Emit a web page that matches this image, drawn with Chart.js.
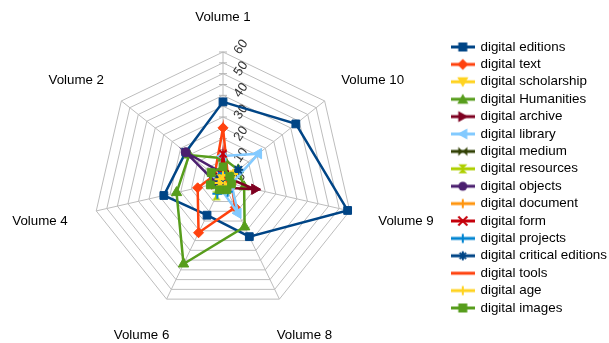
<!DOCTYPE html>
<html>
<head>
<meta charset="utf-8">
<script src="https://cdn.jsdelivr.net/npm/chart.js@4/dist/chart.umd.min.js"></script>
<style>
  html, body { margin: 0; padding: 0; background: #ffffff; }
  #wrap { width: 609px; height: 343px; position: relative; }
</style>
</head>
<body>
<div id="wrap"><canvas id="radar"></canvas></div>
<script>
// Axes, clockwise from the top
const volumes = ['Volume 1', 'Volume 10', 'Volume 9', 'Volume 8', 'Volume 6', 'Volume 4', 'Volume 2'];
const tickLabels = [0, 10, 20, 30, 40, 50, 60];

// Term counts per volume (same order as volumes)
const digitalEditions         = [37, 43, 59, 28, 17, 28, 22];
const digitalText             = [25, 3, 4, 13, 26, 12, 5];
const digitalScholarship      = [3, 6, 4, 2, 2, 2, 2];
const digitalHumanities       = [11, 9, 10, 23, 42, 22, 20];
const digitalArchive          = [5, 3, 15, 3, 2, 4, 3];
const digitalLibrary          = [12, 21, 4, 16, 3, 2, 3];
const digitalMedium           = [2, 2, 2, 2, 2, 5, 2];
const digitalResources        = [2, 2, 2, 2, 7, 2, 2];
const digitalObjects          = [4, 2, 2, 2, 2, 3, 22];
const digitalDocument         = [2, 2, 3, 2, 2, 2, 2];
const digitalForm             = [13, 2, 2, 2, 2, 2, 2];
const digitalProjects         = [4, 3, 2, 5, 6, 2, 2];
const digitalCriticalEditions = [2, 9, 2, 2, 2, 2, 2];
const digitalTools            = [2, 2, 2, 2, 2, 2, 2];
const digitalAge              = [3, 6, 3, 2, 2, 2, 2];
const digitalImages           = [7, 4, 4, 4, 4, 6, 7];

const seriesNames = ['digital editions', 'digital text', 'digital scholarship', 'digital Humanities',
  'digital archive', 'digital library', 'digital medium', 'digital resources', 'digital objects',
  'digital document', 'digital form', 'digital projects', 'digital critical editions',
  'digital tools', 'digital age', 'digital images'];
const seriesValues = [digitalEditions, digitalText, digitalScholarship, digitalHumanities,
  digitalArchive, digitalLibrary, digitalMedium, digitalResources, digitalObjects,
  digitalDocument, digitalForm, digitalProjects, digitalCriticalEditions,
  digitalTools, digitalAge, digitalImages];

// Styling
const palette = ['#004586', '#ff420e', '#ffd320', '#579d1c', '#7e0021', '#83caff', '#314004', '#aecf00',
  '#4b1f6f', '#ff950e', '#c5000b', '#0084d1', '#004586', '#ff420e', '#ffd320', '#579d1c'];
const markers = ['square', 'diamond', 'triDown', 'triUp', 'triRight', 'triLeft', 'bowtie', 'hourglass',
  'circle', 'plus', 'cross', 'plus', 'star', 'none', 'plus', 'square'];

const FONT = "'Liberation Sans', Arial, sans-serif";
const CX = 223, CY = 182, RADIUS = 130;

function drawMarker(ctx, kind, x, y, color) {
  const s = 4.5;
  ctx.save();
  ctx.fillStyle = color;
  ctx.strokeStyle = color;
  ctx.lineWidth = 2;
  ctx.beginPath();
  switch (kind) {
    case 'square': ctx.rect(x - s, y - s, 2 * s, 2 * s); ctx.fill(); break;
    case 'diamond': ctx.moveTo(x, y - s - 1); ctx.lineTo(x + s + 1, y); ctx.lineTo(x, y + s + 1); ctx.lineTo(x - s - 1, y); ctx.closePath(); ctx.fill(); break;
    case 'triUp': ctx.moveTo(x, y - s - 1); ctx.lineTo(x + s + 1, y + s); ctx.lineTo(x - s - 1, y + s); ctx.closePath(); ctx.fill(); break;
    case 'triDown': ctx.moveTo(x, y + s + 1); ctx.lineTo(x + s + 1, y - s); ctx.lineTo(x - s - 1, y - s); ctx.closePath(); ctx.fill(); break;
    case 'triRight': ctx.moveTo(x + s + 1, y); ctx.lineTo(x - s, y - s - 1); ctx.lineTo(x - s, y + s + 1); ctx.closePath(); ctx.fill(); break;
    case 'triLeft': ctx.moveTo(x - s - 1, y); ctx.lineTo(x + s, y - s - 1); ctx.lineTo(x + s, y + s + 1); ctx.closePath(); ctx.fill(); break;
    case 'bowtie':
      ctx.moveTo(x - s, y - s); ctx.lineTo(x, y); ctx.lineTo(x - s, y + s); ctx.closePath();
      ctx.moveTo(x + s, y - s); ctx.lineTo(x, y); ctx.lineTo(x + s, y + s); ctx.closePath(); ctx.fill(); break;
    case 'hourglass':
      ctx.moveTo(x - s, y - s); ctx.lineTo(x + s, y - s); ctx.lineTo(x, y); ctx.closePath();
      ctx.moveTo(x - s, y + s); ctx.lineTo(x + s, y + s); ctx.lineTo(x, y); ctx.closePath(); ctx.fill(); break;
    case 'circle': ctx.arc(x, y, s, 0, Math.PI * 2); ctx.fill(); break;
    case 'plus': ctx.moveTo(x - s, y); ctx.lineTo(x + s, y); ctx.moveTo(x, y - s); ctx.lineTo(x, y + s); ctx.stroke(); break;
    case 'cross': ctx.moveTo(x - s, y - s); ctx.lineTo(x + s, y + s); ctx.moveTo(x + s, y - s); ctx.lineTo(x - s, y + s); ctx.stroke(); break;
    case 'star':
      ctx.moveTo(x - s, y); ctx.lineTo(x + s, y); ctx.moveTo(x, y - s); ctx.lineTo(x, y + s);
      ctx.moveTo(x - s * 0.7, y - s * 0.7); ctx.lineTo(x + s * 0.7, y + s * 0.7);
      ctx.moveTo(x + s * 0.7, y - s * 0.7); ctx.lineTo(x - s * 0.7, y + s * 0.7); ctx.stroke(); break;
    default: break;
  }
  ctx.restore();
}

function markerImage(kind, color) {
  const c = document.createElement('canvas');
  c.width = 12; c.height = 12;
  drawMarker(c.getContext('2d'), kind, 6, 6, color);
  return c;
}

function legendIcon(kind, color) {
  const c = document.createElement('canvas');
  c.width = 24; c.height = 14;
  const ctx = c.getContext('2d');
  ctx.strokeStyle = color;
  ctx.lineWidth = 3;
  ctx.beginPath(); ctx.moveTo(0, 7); ctx.lineTo(24, 7); ctx.stroke();
  drawMarker(ctx, kind, 12, 7, color);
  return c;
}

function pointOptions(kind, color) {
  switch (kind) {
    case 'square': return { pointStyle: 'rect', pointRadius: 5.5, pointRotation: 0 };
    case 'diamond': return { pointStyle: 'rectRot', pointRadius: 5, pointRotation: 0 };
    case 'triUp': return { pointStyle: 'triangle', pointRadius: 6, pointRotation: 0 };
    case 'triDown': return { pointStyle: 'triangle', pointRadius: 6, pointRotation: 180 };
    case 'triRight': return { pointStyle: 'triangle', pointRadius: 6, pointRotation: 90 };
    case 'triLeft': return { pointStyle: 'triangle', pointRadius: 6, pointRotation: 270 };
    case 'circle': return { pointStyle: 'circle', pointRadius: 4.5, pointRotation: 0 };
    case 'plus': return { pointStyle: 'cross', pointRadius: 5, pointRotation: 0, pointBorderWidth: 2 };
    case 'cross': return { pointStyle: 'crossRot', pointRadius: 5, pointRotation: 0, pointBorderWidth: 2 };
    case 'star': return { pointStyle: 'star', pointRadius: 5, pointRotation: 0, pointBorderWidth: 2 };
    case 'none': return { pointStyle: 'circle', pointRadius: 0, pointRotation: 0 };
    default: return { pointStyle: markerImage(kind, color), pointRadius: 6, pointRotation: 0 };
  }
}

const datasets = seriesNames.map((name, i) => Object.assign({
  label: name,
  data: seriesValues[i],
  borderColor: palette[i],
  backgroundColor: palette[i],
  pointBackgroundColor: palette[i],
  pointBorderColor: palette[i],
  pointBorderWidth: 1,
  borderWidth: 2.5,
  fill: false,
  tension: 0,
  order: seriesNames.length - i
}, pointOptions(markers[i], palette[i])));

const legendIcons = markers.map((m, i) => legendIcon(m, palette[i]));

// Axis titles, value labels and the small ticks on the first spoke
const radarDecor = {
  id: 'radarDecor',
  beforeDatasetsDraw(chart) {
    const scale = chart.scales.r;
    const ctx = chart.ctx;
    ctx.save();
    // ticks across the Volume 1 spoke
    ctx.strokeStyle = '#b3b3b3';
    ctx.lineWidth = 1;
    scale.ticks.forEach(t => {
      const p = scale.getPointPositionForValue(0, t.value);
      ctx.beginPath(); ctx.moveTo(p.x - 4, p.y); ctx.lineTo(p.x + 4, p.y); ctx.stroke();
    });
    // rotated value labels
    ctx.fillStyle = '#333333';
    ctx.font = '13px ' + FONT;
    ctx.textAlign = 'center';
    ctx.textBaseline = 'middle';
    tickLabels.forEach(v => {
      const p = scale.getPointPositionForValue(0, v);
      ctx.save();
      ctx.translate(p.x + 18, p.y - 5);
      ctx.rotate(-55 * Math.PI / 180);
      ctx.fillText(String(v), 0, 0);
      ctx.restore();
    });
    // axis titles
    ctx.fillStyle = '#000000';
    ctx.font = '13.3px ' + FONT;
    const dist = scale.drawingArea + 30;
    chart.data.labels.forEach((label, i) => {
      const a = scale.getIndexAngle(i);
      const p = scale.getPointPosition(i, dist);
      const w = ctx.measureText(label).width;
      const x = p.x + Math.sin(a) * w / 2;
      const y = p.y - Math.cos(a) * 7 + 2.5;
      ctx.fillText(label, x, y);
    });
    ctx.restore();
  }
};

new Chart(document.getElementById('radar'), {
  type: 'radar',
  data: { labels: volumes, datasets },
  options: {
    responsive: true,
    maintainAspectRatio: false,
    animation: false,
    devicePixelRatio: 1,
    layout: { padding: { top: 12, right: -8, bottom: 0, left: 0 } },
    elements: { line: { borderJoinStyle: 'miter' } },
    scales: {
      r: {
        min: 0,
        max: 60,
        ticks: { display: false, stepSize: 5 },
        pointLabels: { display: false },
        grid: { color: '#bdbdbd', lineWidth: 1 },
        angleLines: { color: '#bdbdbd', lineWidth: 1 },
        afterFit(scale) {
          scale.xCenter = CX;
          scale.yCenter = CY;
          scale.drawingArea = RADIUS;
        }
      }
    },
    plugins: {
      tooltip: { enabled: false },
      legend: {
        position: 'right',
        labels: {
          usePointStyle: true,
          pointStyleWidth: 22,
          boxHeight: 13.4,
          padding: 4,
          color: '#000000',
          font: { family: FONT, size: 13.4 },
          generateLabels(chart) {
            return chart.data.datasets.map((ds, i) => ({
              text: ds.label,
              pointStyle: legendIcons[i],
              fillStyle: ds.borderColor,
              strokeStyle: ds.borderColor,
              lineWidth: 0,
              hidden: false,
              datasetIndex: i
            }));
          }
        }
      }
    }
  },
  plugins: [radarDecor]
});
</script>
</body>
</html>
